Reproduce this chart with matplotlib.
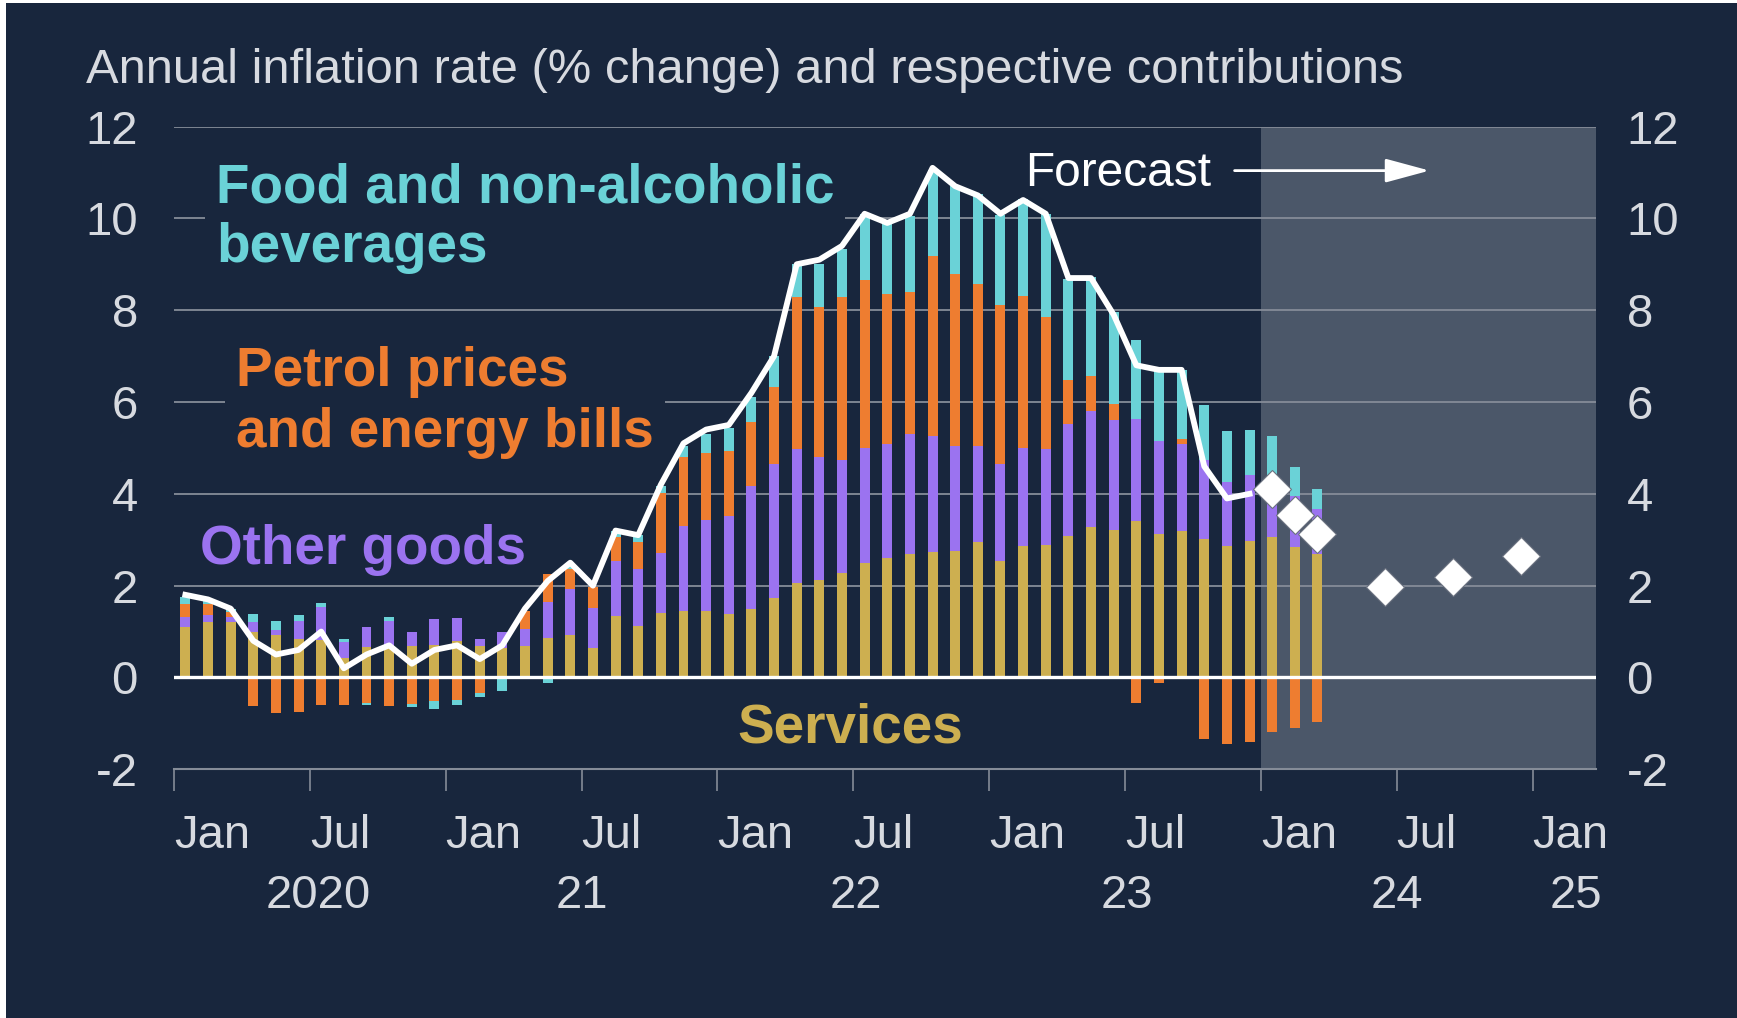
import numpy as np
import pandas as pd
import matplotlib
matplotlib.use('Agg')
import matplotlib.pyplot as plt
from matplotlib.patches import Rectangle
from matplotlib import rcParams

rcParams['font.family'] = 'sans-serif'
rcParams['font.sans-serif'] = ['Liberation Sans', 'DejaVu Sans']

# ---- data (percentage-point contributions, Jan 2020 - Mar 2024) ----
months = pd.period_range('2020-01', '2024-03', freq='M')
services = [1.09, 1.20, 1.20, 0.98, 0.92, 0.84, 0.82, 0.42, 0.67, 0.68, 0.68, 0.71,
            0.80, 0.68, 0.65, 0.69, 0.85, 0.92, 0.64, 1.34, 1.13, 1.40, 1.45, 1.45,
            1.38, 1.49, 1.74, 2.05, 2.12, 2.28, 2.49, 2.60, 2.69, 2.73, 2.76, 2.94,
            2.53, 2.86, 2.89, 3.08, 3.27, 3.22, 3.40, 3.13, 3.18, 3.02, 2.87, 2.98,
            3.05, 2.84, 2.70]
other_goods = [0.22, 0.15, 0.11, 0.23, 0.12, 0.38, 0.72, 0.35, 0.42, 0.54, 0.31, 0.57,
               0.49, 0.16, 0.35, 0.36, 0.79, 1.00, 0.87, 1.20, 1.24, 1.31, 1.85, 1.98,
               2.14, 2.69, 2.91, 2.93, 2.69, 2.45, 2.51, 2.48, 2.62, 2.53, 2.28, 2.10,
               2.12, 2.14, 2.08, 2.45, 2.53, 2.39, 2.23, 2.03, 1.91, 1.71, 1.38, 1.44,
               1.35, 1.12, 0.97]
energy = [0.29, 0.25, 0.12, -0.62, -0.78, -0.76, -0.60, -0.60, -0.55, -0.62, -0.58, -0.51,
          -0.49, -0.33, 0.00, 0.40, 0.62, 0.44, 0.45, 0.51, 0.58, 1.31, 1.50, 1.45,
          1.42, 1.38, 1.67, 3.30, 3.27, 3.56, 3.65, 3.27, 3.09, 3.91, 3.74, 3.52,
          3.46, 3.31, 2.88, 0.95, 0.76, 0.35, -0.55, -0.11, 0.11, -1.35, -1.44, -1.40,
          -1.18, -1.09, -0.98]
food = [0.16, 0.08, 0.07, 0.17, 0.20, 0.13, 0.09, 0.07, -0.04, 0.09, -0.07, -0.18,
        -0.10, -0.09, -0.29, 0.00, -0.11, 0.12, -0.03, 0.15, 0.15, 0.15, 0.25, 0.42,
        0.50, 0.55, 0.69, 0.72, 0.93, 1.05, 1.45, 1.55, 1.65, 1.88, 1.92, 1.98,
        1.96, 2.12, 2.25, 2.20, 2.16, 2.00, 1.73, 1.60, 1.50, 1.20, 1.12, 0.97,
        0.87, 0.63, 0.44]

cpi_months = pd.period_range('2020-01', '2023-12', freq='M')
cpi = [1.8, 1.7, 1.5, 0.8, 0.5, 0.6, 1.0, 0.2, 0.5, 0.7, 0.3, 0.6,
       0.7, 0.4, 0.7, 1.5, 2.1, 2.5, 2.0, 3.2, 3.1, 4.2, 5.1, 5.4,
       5.5, 6.2, 7.0, 9.0, 9.1, 9.4, 10.1, 9.9, 10.1, 11.1, 10.7, 10.5,
       10.1, 10.4, 10.1, 8.7, 8.7, 7.9, 6.8, 6.7, 6.7, 4.6, 3.9, 4.0]

fc_months = pd.PeriodIndex(['2024-01', '2024-02', '2024-03', '2024-06', '2024-09', '2024-12'], freq='M')
fc_values = [4.11, 3.53, 3.13, 1.98, 2.18, 2.65]

month_labels = ['Jan', 'Jul'] * 5 + ['Jan']
year_labels = ['2020', '21', '22', '23', '24', '25']

# ---- colours ----
NAVY = '#18263d'
SHADE = '#4b5769'
TEAL = '#6ad2d7'
ORANGE = '#ee7d30'
PURPLE = '#9b73f0'
YELLOW = '#cdaf50'
TXT = '#d7dae0'
GRID = '#858c98'


def mpos(p):
    # month centre on a numeric axis starting Jan 2020 = 0
    return (p.year - 2020) * 12 + p.month - 1 + 0.5


x = np.array([mpos(p) for p in months])
xc = np.array([mpos(p) for p in cpi_months])
xf = np.array([mpos(p) for p in fc_months])

fig = plt.figure(figsize=(17.37, 10.18), dpi=100, facecolor='white')
fig.patches.append(Rectangle((6 / 1737, 0), 1, 1 - 3 / 1018, transform=fig.transFigure,
                             facecolor=NAVY, edgecolor='none', zorder=-10))

ax = fig.add_axes([0.1002, 0.2443, 0.8186, 0.6314])
ax.set_facecolor('none')
ax.set_xlim(0, 62.8)
ax.set_ylim(-2, 12)

# forecast shading
ax.axvspan(48, 62.8, color=SHADE, zorder=0, lw=0)

# gridlines
for g in range(2, 13, 2):
    ax.axhline(g, color=GRID, lw=1.3, zorder=0.5)

# stacked bars, positives up and negatives down
pos_base = np.zeros(len(x))
neg_base = np.zeros(len(x))
for vals, col in [(services, YELLOW), (other_goods, PURPLE), (energy, ORANGE), (food, TEAL)]:
    v = np.array(vals)
    base = np.where(v >= 0, pos_base, neg_base)
    ax.bar(x, v, bottom=base, width=0.44, color=col, lw=0, zorder=2)
    pos_base = pos_base + np.where(v >= 0, v, 0)
    neg_base = neg_base + np.where(v < 0, v, 0)

ax.axhline(0, color='white', lw=2.4, zorder=3)
ax.plot(xc, cpi, color='white', lw=4.2, zorder=4, solid_joinstyle='round')
ax.plot(xf, fc_values, ls='none', marker='D', ms=19, mfc='white', mec='#6b7280',
        mew=0.8, zorder=5)

# axes styling
for s in ['left', 'right', 'top']:
    ax.spines[s].set_visible(False)
ax.spines['bottom'].set_color(GRID)
ax.spines['bottom'].set_linewidth(1.5)
ax.set_xticks(np.arange(0, 61, 6))
ax.set_xticklabels([])
ax.tick_params(axis='x', length=15.8, width=1.2, color=GRID, direction='out')

yt = list(range(-2, 13, 2))
ax.set_yticks(yt)
ax.set_yticklabels([str(t) for t in yt])
ax.tick_params(axis='y', length=0, pad=26, labelsize=34, labelcolor=TXT)

ax2 = ax.twinx()
ax2.set_ylim(-2, 12)
ax2.set_yticks(yt)
ax2.set_yticklabels([str(t) for t in yt])
ax2.tick_params(axis='y', length=0, pad=22, labelsize=34, labelcolor=TXT)
for s in ax2.spines.values():
    s.set_visible(False)
ax2.patch.set_visible(False)

for xt, t in zip(np.arange(0, 61, 6), month_labels):
    ax.text(xt, -3.71, t, ha='left', va='baseline', fontsize=34, color=TXT, clip_on=False)
for xt, t in zip([6.39, 18.0, 30.1, 42.1, 54.0, 61.9], year_labels):
    ax.text(xt, -5.02, t, ha='center', va='baseline', fontsize=34, color=TXT, clip_on=False)

# series labels (va='baseline' anchors the last line here); boxes sit
# above the gridlines but under the bars
box = dict(facecolor=NAVY, edgecolor='none', pad=8)
ax.text(1.85, 9.04, 'Food and non-alcoholic\nbeverages', color=TEAL, fontsize=39.5,
        fontweight='bold', va='baseline', linespacing=1.21, bbox=box, zorder=1)
ax.text(2.74, 5.03, 'Petrol prices\nand energy bills', color=ORANGE, fontsize=39.5,
        fontweight='bold', va='baseline', linespacing=1.21, bbox=box, zorder=1)
ax.text(1.15, 2.48, 'Other goods', color=PURPLE, fontsize=39.5, fontweight='bold',
        va='baseline', zorder=3)
ax.text(24.86, -1.42, 'Services', color=YELLOW, fontsize=39.5, fontweight='bold',
        va='baseline', zorder=3)

ax.text(37.57, 10.70, 'Forecast', color='white', fontsize=34.5, va='baseline', zorder=6)
ax.annotate('', xy=(55.45, 11.04), xytext=(46.84, 11.04),
            arrowprops=dict(arrowstyle='-|>,head_length=1.37,head_width=0.37',
                            color='white', lw=2.0, mutation_scale=20,
                            shrinkA=0, shrinkB=0), zorder=6)

fig.text(86 / 1737, 1 - 83 / 1018, 'Annual inflation rate (% change) and respective contributions',
         fontsize=35.2, color=TXT, va='baseline')

fig.savefig('out.png', dpi=100, facecolor=fig.get_facecolor())
